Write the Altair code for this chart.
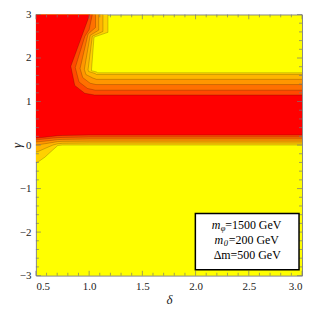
import altair as alt
import pandas as pd

# ---------------- data ----------------
level_colors = ["#FFD000", "#FFB400", "#FF9600", "#FF7000", "#FF4A00", "#FF0000"]
background_color = "#FFFF00"

# lower boundary of each level region (gamma at these delta values)
bottom_delta = [0.5, 0.52, 0.584, 0.66, 0.706, 0.75, 1.0, 3.0]
bottom_gamma = [
    [-0.40, -0.39, -0.28, -0.11, -0.01, 0.00, 0.00, 0.00],
    [-0.16, -0.15, -0.08, 0.00, 0.03, 0.04, 0.045, 0.045],
    [0.00, 0.005, 0.03, 0.06, 0.08, 0.085, 0.09, 0.09],
    [0.07, 0.075, 0.09, 0.11, 0.125, 0.13, 0.14, 0.14],
    [0.12, 0.125, 0.14, 0.16, 0.17, 0.175, 0.185, 0.185],
    [0.16, 0.165, 0.18, 0.20, 0.215, 0.22, 0.23, 0.23],
]

# upper boundary of the horizontal band
top_flat_gamma = [1.66, 1.62, 1.51, 1.39, 1.26, 1.15]
knee_gamma = [1.68, 1.645, 1.54, 1.42, 1.30, 1.19]
knee_delta = [1.068, 1.055, 1.035, 1.01, 0.985, 0.959]
flat_start_delta = [1.08, 1.07, 1.07, 1.065, 1.06, 1.052]

# upper-left boundary above the knee: delta as a function of gamma
left_gamma = [
    [1.71, 2.48, 2.59, 3.0],
    [1.69, 1.73, 2.50, 2.61, 3.0],
    [1.62, 1.74, 2.52, 2.64, 3.0],
    [1.55, 1.76, 2.55, 2.70, 3.0],
    [1.45, 1.78, 2.50, 2.65, 3.0],
    [1.37, 1.81, 3.0],
]
left_delta = [
    [1.022, 1.046, 1.177, 1.177],
    [0.995, 0.99, 1.03, 1.13, 1.13],
    [0.97, 0.955, 1.01, 1.09, 1.09],
    [0.94, 0.915, 0.99, 1.06, 1.06],
    [0.905, 0.87, 0.96, 1.0, 1.03],
    [0.865, 0.828, 1.006],
]

x_major = [0.5, 1.0, 1.5, 2.0, 2.5, 3.0]
x_minor = [0.6, 0.7, 0.8, 0.9, 1.1, 1.2, 1.3, 1.4, 1.6, 1.7, 1.8, 1.9,
           2.1, 2.2, 2.3, 2.4, 2.6, 2.7, 2.8, 2.9]
y_major = [-3, -2, -1, 0, 1, 2, 3]
y_minor = [-2.8, -2.6, -2.4, -2.2, -1.8, -1.6, -1.4, -1.2, -0.8, -0.6, -0.4, -0.2,
           0.2, 0.4, 0.6, 0.8, 1.2, 1.4, 1.6, 1.8, 2.2, 2.4, 2.6, 2.8]

legend_box_delta = [1.998, 2.972]
legend_box_gamma = [-1.573, -2.867]
legend_m_delta = [2.232, 2.260]
legend_m_gamma = [-1.834, -2.191]
legend_sub = ["φ", "0"]
legend_rest_delta = [2.279, 2.312]
legend_rest = ["=1500 GeV", "=200 GeV"]
legend_last = "Δm=500 GeV"
legend_last_pos = [2.485, -2.516]

DMIN, DMAX = 0.5, 3.0
GMIN, GMAX = -3.0, 3.0
SERIF = "Liberation Serif, Times New Roman, Times, serif"

xs = alt.Scale(domain=[DMIN, DMAX], nice=False, zero=False)
ys = alt.Scale(domain=[GMIN, GMAX], nice=False, zero=False)
axis_style = dict(grid=False, ticks=False, domain=False,
                  labelFont=SERIF, labelFontSize=11, labelColor="#222", labelPadding=5,
                  titleFont=SERIF, titleFontSize=13, titleFontStyle="italic",
                  titleFontWeight="normal", titleColor="#222", titleBaseline="middle")
x_axis = alt.Axis(values=x_major, format=".1f", title="δ", titleY=24, **axis_style)
y_axis = alt.Axis(values=y_major, format="d", title="γ", titleX=-19, **axis_style)

X = lambda f: alt.X(f, scale=xs, axis=x_axis)
Y = lambda f: alt.Y(f, scale=ys, axis=y_axis)

layers = []
for k in range(6):
    col = level_colors[k]
    low = pd.DataFrame({"d": bottom_delta, "g": bottom_gamma[k]})
    layers.append(alt.Chart(low).mark_area(color=col, clip=True).encode(
        x=X("d:Q"), y=Y("g:Q"), y2=alt.datum(0.7)))
    high = pd.DataFrame({
        "d": [DMIN, knee_delta[k], flat_start_delta[k], DMAX],
        "g": [knee_gamma[k], knee_gamma[k], top_flat_gamma[k], top_flat_gamma[k]],
    })
    layers.append(alt.Chart(high).mark_area(color=col, clip=True).encode(
        x=X("d:Q"), y=Y("g:Q"), y2=alt.datum(0.6)))
    left = pd.DataFrame({
        "g": [knee_gamma[k] - 0.03, knee_gamma[k]] + left_gamma[k],
        "d": [knee_delta[k], knee_delta[k]] + left_delta[k],
    })
    layers.append(alt.Chart(left).mark_area(color=col, orient="horizontal", clip=True).encode(
        y=Y("g:Q"), x=X("d:Q"), x2=alt.datum(DMIN)))

# contour lines
rows = []
for k in range(6):
    for i, (d, g) in enumerate(zip(bottom_delta, bottom_gamma[k])):
        rows.append({"path": f"b{k}", "o": i, "d": d, "g": g})
    top_pts = [(DMAX, top_flat_gamma[k]), (flat_start_delta[k], top_flat_gamma[k]),
               (knee_delta[k], knee_gamma[k])] + list(zip(left_delta[k], left_gamma[k]))
    for i, (d, g) in enumerate(top_pts):
        rows.append({"path": f"t{k}", "o": i, "d": d, "g": g})
lines = pd.DataFrame(rows)
layers.append(alt.Chart(lines).mark_line(color="#000000", opacity=0.28, strokeWidth=0.7, clip=True).encode(
    x=X("d:Q"), y=Y("g:Q"), detail="path:N", order="o:Q"))

# inward frame ticks
tick_col = "#777777"
def xticks(vals, length):
    df = pd.DataFrame({"v": vals})
    b = alt.Chart(df).mark_rule(color=tick_col, strokeWidth=0.7).encode(
        x=X("v:Q"), y=alt.datum(GMIN), y2=alt.datum(GMIN + length))
    t = alt.Chart(df).mark_rule(color=tick_col, strokeWidth=0.7).encode(
        x=X("v:Q"), y=alt.datum(GMAX), y2=alt.datum(GMAX - length))
    return [b, t]
def yticks(vals, length):
    df = pd.DataFrame({"v": vals})
    l = alt.Chart(df).mark_rule(color=tick_col, strokeWidth=0.7).encode(
        y=Y("v:Q"), x=alt.datum(DMIN), x2=alt.datum(DMIN + length))
    r = alt.Chart(df).mark_rule(color=tick_col, strokeWidth=0.7).encode(
        y=Y("v:Q"), x=alt.datum(DMAX), x2=alt.datum(DMAX - length))
    return [l, r]
layers += xticks(x_major, 0.11) + xticks(x_minor, 0.065)
layers += yticks(y_major, 0.047) + yticks(y_minor, 0.028)

# legend box
box = pd.DataFrame({"d1": [legend_box_delta[0]], "d2": [legend_box_delta[1]],
                    "g1": [legend_box_gamma[0]], "g2": [legend_box_gamma[1]]})
layers.append(alt.Chart(box).mark_rect(fill="white", stroke="black", strokeWidth=1.5).encode(
    x=X("d1:Q"), x2="d2:Q", y=Y("g1:Q"), y2="g2:Q"))
mtxt = pd.DataFrame({"d": legend_m_delta, "g": legend_m_gamma, "sub": legend_sub,
                     "rd": legend_rest_delta, "rest": legend_rest})
layers.append(alt.Chart(mtxt).mark_text(font=SERIF, fontSize=12, fontStyle="italic",
                                        align="right", baseline="middle", color="black").encode(
    x=X("d:Q"), y=Y("g:Q"), text=alt.value("m")))
layers.append(alt.Chart(mtxt).mark_text(font=SERIF, fontSize=8.5, fontStyle="italic", dx=0.5, dy=3,
                                        align="left", baseline="middle", color="black").encode(
    x=X("d:Q"), y=Y("g:Q"), text="sub:N"))
layers.append(alt.Chart(mtxt).mark_text(font=SERIF, fontSize=12, align="left",
                                        baseline="middle", color="black").encode(
    x=X("rd:Q"), y=Y("g:Q"), text="rest:N"))
last = pd.DataFrame({"d": [legend_last_pos[0]], "g": [legend_last_pos[1]], "t": [legend_last]})
layers.append(alt.Chart(last).mark_text(font=SERIF, fontSize=12, align="center",
                                        baseline="middle", color="black").encode(
    x=X("d:Q"), y=Y("g:Q"), text="t:N"))

chart = alt.layer(*layers).properties(
    width=267, height=262,
    autosize=alt.AutoSizeParams(type="none"),
    padding={"left": 28, "top": 6, "right": 2, "bottom": 32},
).configure_view(
    fill=background_color, stroke="#8a8a8a", strokeWidth=1
).configure_axis(**axis_style)

chart.save("out.html", embed_options={"renderer": "svg", "actions": False})
